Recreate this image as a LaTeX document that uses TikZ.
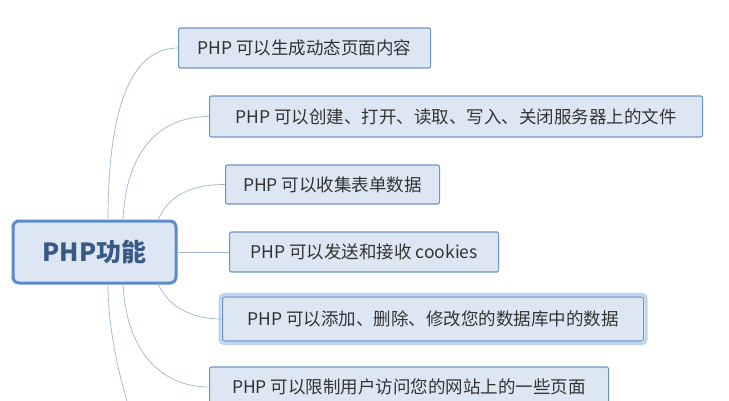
\documentclass[tikz,border=0pt]{standalone}
\usepackage{fontspec}
\setmainfont{Noto Sans CJK SC}
\begin{document}
\begin{tikzpicture}[x=1pt,y=-1pt,
  leaf/.style={draw=bordc,fill=fillc,rounded corners=2pt,line width=1.1pt,font=\fontsize{17.5}{20}\selectfont,text=textc,minimum height=40pt,inner xsep=8pt,anchor=west},
  root/.style={draw=rootb,fill=fillc,rounded corners=6pt,line width=3pt,font=\fontsize{25}{28}\selectfont\bfseries,text=roott,minimum width=163pt,minimum height=62pt},
  link/.style={draw=linkc,line width=0.7pt}]
\definecolor{bordc}{HTML}{6D93C6}
\definecolor{fillc}{HTML}{DDE7F3}
\definecolor{textc}{HTML}{333333}
\definecolor{rootb}{HTML}{5B8BC8}
\definecolor{roott}{HTML}{3A5A86}
\definecolor{linkc}{HTML}{9DB4CF}
\definecolor{glowc}{HTML}{BFD4EE}
\useasboundingbox (0,0) rectangle (729,400);
\clip (0,0) rectangle (729,400);
\node[root] (r) at (94.5,252) {PHP功能};
\node[leaf,minimum width=252pt] (a) at (178,48) {PHP 可以生成动态页面内容};
\node[leaf,minimum width=493pt,minimum height=41pt] (b) at (209,116.5) {PHP 可以创建、打开、读取、写入、关闭服务器上的文件};
\node[leaf,minimum width=214pt,minimum height=39pt] (c) at (225,184.5) {PHP 可以收集表单数据};
\node[leaf,minimum width=269pt] (d) at (229,252) {PHP 可以发送和接收 cookies};
\node[leaf,minimum width=421pt,minimum height=44pt] (e) at (222,319) {PHP 可以添加、删除、修改您的数据库中的数据};
\draw[glowc,line width=3pt,rounded corners=4pt] ([shift={(-2,-2)}]e.north west) rectangle ([shift={(2,2)}]e.south east);
\node[leaf,minimum width=399pt] (f) at (209,387) {PHP 可以限制用户访问您的网站上的一些页面};
\coordinate (g) at (140,440);
\draw[link] (108,220.5) .. controls (108,110) and (130,48) .. (a.west);
\draw[link] (123,220.5) .. controls (126,150) and (160,116.5) .. (b.west);
\draw[link] (158,220.5) .. controls (168,196) and (190,184.5) .. (c.west);
\draw[link] (r.east) -- (d.west);
\draw[link] (158,283.5) .. controls (168,306) and (190,319) .. (e.west);
\draw[link] (123,283.5) .. controls (126,350) and (160,387) .. (f.west);
\draw[link] (108,283.5) .. controls (108,340) and (125,400) .. (g);
\end{tikzpicture}
\end{document}
